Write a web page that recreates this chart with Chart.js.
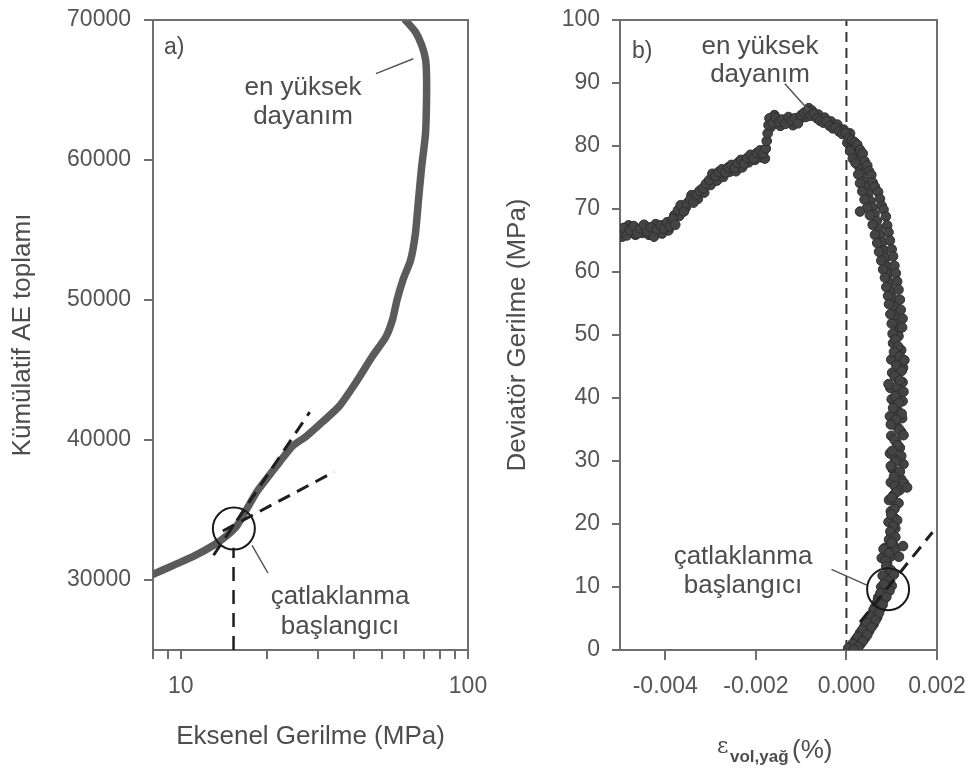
<!DOCTYPE html>
<html><head><meta charset="utf-8">
<script src="https://cdn.jsdelivr.net/npm/chart.js@4.4.1/dist/chart.umd.min.js"></script>
<style>
html,body{margin:0;padding:0;background:#fff;}
#wrap{position:relative;width:970px;height:769px;overflow:hidden;background:#fff;}
canvas{position:absolute;top:0;}
</style></head><body>
<div id="wrap">
<canvas id="ca" width="520" height="769" style="left:0;width:520px;height:769px"></canvas>
<canvas id="cb" width="485" height="769" style="left:485px;width:485px;height:769px"></canvas>
</div>
<script>
// ---------- Panel a data ----------
const aStress = [8.0, 9.46, 11.1, 13.0, 14.5, 15.7, 17.0, 18.4, 19.9, 22.1, 24.5, 27.4, 31.1, 35.6, 40.7, 46.4, 51.8, 54.6, 56.6, 59.5, 63.1, 65.6, 67.2, 68.9, 71.1, 71.7, 71.7, 71.1, 68.9, 65.6, 60.5];
const aAE     = [30400, 31060, 31700, 32480, 33190, 33900, 35100, 36300, 37230, 38440, 39570, 40280, 41280, 42410, 44110, 45960, 47380, 48600, 50000, 51500, 52840, 54750, 57090, 59430, 61840, 64180, 66100, 67230, 68230, 69150, 70000];
const aVertX = [15.26, 15.26];
const aVertY = [25000, 32300];
const aSteepX = [13.0, 28.1];
const aSteepY = [31770, 41990];
const aShallowX = [14.0, 34.2];
const aShallowY = [33500, 37730];
const aCircle = [15.3, 33670];
const aLeaderPeakX = [47.8, 64.5];
const aLeaderPeakY = [66170, 67230];
const aLeaderCrackX = [17.7, 20.1];
const aLeaderCrackY = [32480, 30500];
const aXTicks = [8, 9, 10, 20, 30, 40, 50, 60, 70, 80, 90, 100];
const aXLabeled = [10, 100];
const aYTicks = [30000, 40000, 50000, 60000, 70000];

// ---------- Panel b data ----------
const bStrain = [
 -0.00498,-0.00492,-0.00485,-0.00478,-0.0047,-0.00462,-0.00455,-0.00447,-0.0044,-0.00432,-0.00425,-0.00418,-0.0041,-0.00403,-0.00396,-0.00389,-0.00383,-0.00378,
 -0.00372,-0.00366,-0.00359,-0.00352,-0.00345,-0.00338,-0.00331,-0.00324,-0.00317,-0.0031,-0.00303,-0.00296,-0.00289,-0.00282,-0.00275,-0.00268,-0.00261,-0.00254,-0.00247,-0.0024,-0.00233,-0.00226,-0.00219,-0.00212,-0.00205,-0.00198,-0.00191,-0.00184,-0.00178,
 -0.00176,-0.00174,-0.00172,-0.0017,
 -0.00163,-0.00156,-0.00149,-0.00142,-0.00135,-0.00128,-0.00121,-0.00114,-0.00107,-0.001,-0.00093,-0.00086,-0.00079,-0.00072,-0.00065,-0.00058,-0.00051,-0.00044,-0.00037,-0.0003,-0.00023,-0.00016,-0.00009,-0.00002,0.00005,0.00012,
 0.00018,0.00024,0.0003,0.00036,0.0004,0.00046,0.0005,0.00055,0.00058,0.00063,0.0007,0.00074,0.00078,0.00082,0.00087,0.0009,0.00093,0.00096,0.001,0.00103,0.00106,0.00109,0.00112,0.00115,0.00118,0.0012,0.00124,0.00123,
 0.00008,0.00014,0.0002,0.00026,0.0003,0.00035,0.0004,0.00046,0.00052,0.00058,0.00063,0.00068,0.00072,0.00077,0.00081,0.00085,0.00088,0.00092,0.00094,0.00097,0.001,0.00102,
 0.0003,
 0.00108,0.00114,0.00105,0.00118,0.00128,0.0011,0.00122,0.00106,0.00093,0.00118,0.00126,0.00108,0.00116,0.00103,0.00122,0.0011,0.00098,0.00117,0.00126,0.00106,0.00113,0.00101,0.00121,0.00109,0.00098,0.00118,0.00105,0.00127,0.00134,0.0011,0.001,0.00115,0.00106,0.00099,0.00112,0.00103,0.00097,0.00108,0.001,0.00125,0.00082,0.00094,0.00116,0.00086,
 0.00088,0.00098,0.00105,0.0008,0.00092,0.001,0.00083,0.00095,0.00075,0.00088,0.00068,0.0008,0.0006,0.00072,0.00052,0.00064,0.00044,0.00055,0.00035,0.00046,0.00025,0.00036,0.00014,0.00026,0.00004,0.00016
];
const bStress = [
 66.2,67.0,65.8,66.6,67.3,66.1,66.9,67.5,66.4,67.1,65.6,66.8,67.4,66.9,67.9,67.2,68.4,67.5,
 69.8,70.6,69.6,70.9,71.5,71.0,72.3,72.9,73.3,74.0,74.6,75.6,75.2,75.9,76.3,75.8,76.6,77.0,76.5,77.3,77.8,77.2,78.1,78.6,78.0,78.9,79.3,78.8,79.6,
 80.8,82.0,83.3,84.4,
 83.6,84.5,83.8,84.2,83.5,84.6,84.0,84.4,83.6,84.9,85.3,85.5,84.8,85.1,84.4,84.0,83.7,83.9,83.2,82.8,82.9,82.3,81.9,82.1,81.2,80.9,
 80.6,80.2,79.4,78.8,77.6,76.9,76.0,75.4,74.2,73.5,72.7,71.6,70.5,69.9,68.8,67.4,66.3,65.0,63.6,62.5,61.0,59.8,58.5,57.2,55.6,54.0,52.6,51.2,
 79.2,78.0,77.3,75.5,74.1,72.8,71.5,70.2,69.0,67.5,65.9,64.6,63.2,61.8,60.4,59.1,57.6,56.2,54.9,53.3,51.8,50.2,
 69.6,
 49.3,48.2,47.3,46.6,46.0,45.2,44.3,43.5,42.2,42.8,41.0,40.3,39.2,38.4,37.5,36.6,35.8,35.0,34.1,33.4,32.5,31.6,30.8,29.9,29.2,28.3,27.5,26.5,25.8,25.0,24.2,23.3,22.4,21.5,20.6,19.7,18.8,17.9,17.0,16.5,16.0,15.4,14.8,14.2,
 13.3,12.7,12.0,11.8,11.0,10.2,10.5,9.4,9.0,8.4,7.6,7.2,6.4,5.9,5.4,4.7,4.3,3.6,3.2,2.4,2.1,1.4,1.0,0.5,0.3,0.1
];
// second reading of the dense band (extra scattered samples)
const bStrain2 = [
 -0.00495,-0.00481,-0.00466,-0.00451,-0.00436,-0.00421,-0.00407,-0.00393,-0.0038,
 -0.00369,-0.00355,-0.00342,-0.00328,-0.00314,-0.003,-0.00286,-0.00272,-0.00258,-0.00244,-0.0023,-0.00216,-0.00202,-0.00188,-0.0018,
 -0.00167,-0.00159,-0.00146,-0.00132,-0.00118,-0.00104,-0.0009,-0.00083,-0.00076,-0.00062,-0.00048,-0.00034,-0.0002,-0.00006,0.00008,0.00002,
 0.00012,0.00018,0.00024,0.00028,0.00033,0.00038,0.00043,0.00048,0.00053,0.00058,0.00062,0.00067,0.00071,0.00075,0.00079,0.00083,0.00086,0.0009,0.00093,0.00096,0.00099,0.00102,0.00105,0.00108,0.0011,0.00113,
 0.00115,0.00103,0.00121,0.00112,0.00099,0.00116,0.00125,0.00101,0.00113,0.00124,0.00097,0.00111,0.00119,0.001,0.00124,0.00107,0.00114,0.00096,0.00123,0.00104,0.00112,0.00121,0.00099,0.0011,0.00118,0.00096,0.00107,0.00117,0.00126,0.00102,0.00112,0.00121,0.00098,0.00107,0.00118,0.00104,0.00094,0.00109,0.00098,0.00104,0.00093,0.00108,0.00099,0.00094,0.00104,0.00091,0.00099,0.00108,0.0009,0.00078,0.00085,
 0.00094,0.00086,0.00077,0.00091,0.0007,0.00082,0.00064,0.00076,0.00057,0.00068,0.00049,0.0006,0.0004,0.0005,0.0003,0.00041,0.0002,0.00031,0.0001,0.00021
];
const bStress2 = [
 65.6,67.4,65.9,66.2,65.9,67.6,66.1,66.6,69.0,
 68.9,70.2,72.2,71.6,72.6,73.8,74.5,75.1,75.9,76.0,76.6,77.4,77.8,78.2,78.0,
 83.0,84.9,83.2,84.0,83.3,84.2,84.6,86.0,85.6,85.0,84.5,83.9,83.4,82.6,82.0,80.5,
 79.9,78.9,77.8,76.7,75.6,74.4,73.6,72.4,71.3,70.3,69.2,68.1,66.9,65.8,64.7,63.4,62.2,60.9,59.7,58.3,57.0,55.8,54.6,53.2,51.7,50.4,
 49.8,48.7,47.6,46.9,46.1,45.6,44.8,44.0,43.1,42.5,41.6,41.8,40.6,39.8,39.5,38.9,37.9,37.1,36.8,36.1,35.4,34.6,34.0,33.0,32.1,31.2,30.4,30.1,29.5,28.7,27.9,27.1,26.6,26.0,25.4,24.6,23.8,23.0,22.0,21.1,20.3,19.3,18.4,17.5,16.6,15.9,14.9,15.9,13.8,14.6,16.2,
 12.0,11.2,10.0,9.9,8.3,8.0,6.9,6.6,5.8,5.2,4.8,4.1,3.8,3.0,2.7,1.9,1.6,0.9,0.6,0.3
];
const bZeroX = [0, 0];
const bZeroY = [0, 100];
const bTangentX = [0.0003, 0.0019];
const bTangentY = [4.4, 18.7];
const bCircle = [0.00092, 9.65];
const bLeaderPeakX = [-0.00136, -0.00084];
const bLeaderPeakY = [89.9, 85.7];
const bLeaderCrackX = [-0.00033, 0.00045];
const bLeaderCrackY = [12.8, 10.3];
const bXTicks = [-0.004, -0.002, 0.000, 0.002];
const bYTicks = [0, 10, 20, 30, 40, 50, 60, 70, 80, 90, 100];

// ---------- helpers ----------
const FONT = "'Liberation Sans', Arial, Helvetica, sans-serif";
const AXIS = '#6e6e6e';
const TXT = '#4d4d4d';
const pts = (xs, ys) => xs.map((x, i) => ({x, y: ys[i]}));

function lineDS(xs, ys, opts) {
  return Object.assign({data: pts(xs, ys), showLine: true, pointRadius: 0, borderColor: '#1e1e1e', borderWidth: 2, fill: false, tension: 0}, opts);
}

function decoPlugin(texts, extra) {
  return {
    id: 'deco',
    afterDraw(chart) {
      const ctx = chart.ctx, a = chart.chartArea;
      ctx.save();
      ctx.strokeStyle = AXIS; ctx.lineWidth = 2;
      ctx.beginPath();
      ctx.moveTo(a.left, a.top); ctx.lineTo(a.right, a.top); ctx.lineTo(a.right, a.bottom);
      ctx.stroke();
      ctx.fillStyle = TXT; ctx.textBaseline = 'middle';
      texts.forEach(t => {
        ctx.font = (t.size || 26) + 'px ' + FONT;
        ctx.textAlign = t.align || 'center';
        ctx.fillText(t.text, t.x, t.y);
      });
      if (extra) extra(ctx, chart);
      ctx.restore();
    }
  };
}

function tickScale(list) {
  return s => { s.ticks = list.map(v => ({value: v})); };
}

// ---------- Chart a ----------
new Chart(document.getElementById('ca'), {
  type: 'scatter',
  data: {
    datasets: [
      {data: [{x: aCircle[0], y: aCircle[1]}], pointRadius: 21, pointStyle: 'circle', pointBackgroundColor: 'rgba(0,0,0,0)', pointBorderColor: '#1a1a1a', pointBorderWidth: 2},
      lineDS(aSteepX, aSteepY, {borderWidth: 3, borderDash: [13, 8]}),
      lineDS(aShallowX, aShallowY, {borderWidth: 3, borderDash: [13, 8]}),
      lineDS(aVertX, aVertY, {borderWidth: 2.5, borderDash: [14, 9]}),
      lineDS(aLeaderPeakX, aLeaderPeakY, {borderWidth: 1.5, borderColor: '#555'}),
      lineDS(aLeaderCrackX, aLeaderCrackY, {borderWidth: 1.5, borderColor: '#555'}),
      lineDS(aStress, aAE, {borderWidth: 7.5, borderColor: '#5b5b5b', tension: 0.2, borderCapStyle: 'round', borderJoinStyle: 'round'})
    ]
  },
  options: {
    responsive: false, animation: false, devicePixelRatio: 1,
    layout: {autoPadding: false, padding: {top: 20, right: 52, left: 0, bottom: 0}},
    plugins: {legend: {display: false}, tooltip: {enabled: false}},
    scales: {
      x: {
        type: 'logarithmic', min: 8, max: 100,
        afterBuildTicks: tickScale(aXTicks),
        afterFit(s) { s.height = 119; s.paddingLeft = 0; s.paddingRight = 0; },
        border: {display: true, color: AXIS, width: 2},
        grid: {drawOnChartArea: false, drawTicks: true, tickLength: 9, color: AXIS, lineWidth: 2},
        ticks: {autoSkip: false, maxRotation: 0, padding: 14, color: '#555', font: {family: FONT, size: 23},
                callback: v => aXLabeled.includes(v) ? String(v) : ''},
        title: {display: true, text: 'Eksenel Gerilme (MPa)', color: TXT, font: {family: FONT, size: 26}, padding: {top: 0, bottom: 17}}
      },
      y: {
        type: 'linear', min: 25000, max: 70000,
        afterBuildTicks: tickScale(aYTicks),
        afterFit(s) { s.width = 153; s.paddingTop = 0; s.paddingBottom = 0; },
        border: {display: true, color: AXIS, width: 2},
        grid: {drawOnChartArea: false, drawTicks: true, tickLength: 9, color: AXIS, lineWidth: 2},
        ticks: {autoSkip: false, padding: 13, color: '#555', font: {family: FONT, size: 23}, callback: v => String(v)},
        title: {display: true, text: 'Kümülatif AE toplamı', color: TXT, font: {family: FONT, size: 26}, padding: {top: 7, bottom: 0}}
      }
    }
  },
  plugins: [decoPlugin([
    {text: 'a)', x: 164, y: 48, size: 23, align: 'left'},
    {text: 'en yüksek', x: 303, y: 88},
    {text: 'dayanım', x: 303, y: 117},
    {text: 'çatlaklanma', x: 340, y: 597},
    {text: 'başlangıcı', x: 340, y: 627}
  ])]
});

// ---------- Chart b ----------
const bPointStyle = {pointRadius: 4.8, pointBackgroundColor: '#444', pointBorderColor: '#2e2e2e', pointBorderWidth: 1, showLine: false};
new Chart(document.getElementById('cb'), {
  type: 'scatter',
  data: {
    datasets: [
      {data: [{x: bCircle[0], y: bCircle[1]}], pointRadius: 21, pointStyle: 'circle', pointBackgroundColor: 'rgba(0,0,0,0)', pointBorderColor: '#1a1a1a', pointBorderWidth: 2},
      lineDS(bTangentX, bTangentY, {borderWidth: 3, borderDash: [13, 8]}),
      lineDS(bLeaderPeakX, bLeaderPeakY, {borderWidth: 1.5, borderColor: '#555'}),
      lineDS(bLeaderCrackX, bLeaderCrackY, {borderWidth: 1.5, borderColor: '#555'}),
      Object.assign({data: pts(bStrain, bStress)}, bPointStyle),
      Object.assign({data: pts(bStrain2, bStress2)}, bPointStyle),
      lineDS(bZeroX, bZeroY, {borderWidth: 2, borderColor: '#333', borderDash: [10, 6]})
    ]
  },
  options: {
    responsive: false, animation: false, devicePixelRatio: 1,
    layout: {autoPadding: false, padding: {top: 20, right: 33, left: 0, bottom: 0}},
    plugins: {legend: {display: false}, tooltip: {enabled: false}},
    scales: {
      x: {
        type: 'linear', min: -0.005, max: 0.002,
        afterBuildTicks: tickScale(bXTicks),
        afterFit(s) { s.height = 119; s.paddingLeft = 0; s.paddingRight = 0; },
        border: {display: true, color: AXIS, width: 2},
        grid: {drawOnChartArea: false, drawTicks: true, tickLength: 10, color: AXIS, lineWidth: 2},
        ticks: {autoSkip: false, maxRotation: 0, padding: 13, color: '#555', font: {family: FONT, size: 23},
                callback: v => (Math.abs(v) < 1e-9 ? 0 : v).toFixed(3)}
      },
      y: {
        type: 'linear', min: 0, max: 100,
        afterBuildTicks: tickScale(bYTicks),
        afterFit(s) { s.width = 135; s.paddingTop = 0; s.paddingBottom = 0; },
        border: {display: true, color: AXIS, width: 2},
        grid: {drawOnChartArea: false, drawTicks: true, tickLength: 8, color: AXIS, lineWidth: 2},
        ticks: {autoSkip: false, padding: 12, color: '#555', font: {family: FONT, size: 23}, callback: v => String(v)},
        title: {display: true, text: 'Deviatör Gerilme (MPa)', color: TXT, font: {family: FONT, size: 26}, padding: {top: 17, bottom: 0}}
      }
    }
  },
  plugins: [decoPlugin([
    {text: 'b)', x: 147, y: 52, size: 23, align: 'left'},
    {text: 'en yüksek', x: 275, y: 47},
    {text: 'dayanım', x: 275, y: 75},
    {text: 'çatlaklanma', x: 258, y: 557},
    {text: 'başlangıcı', x: 258, y: 586}
  ], (ctx) => {
    ctx.fillStyle = TXT; ctx.textBaseline = 'alphabetic'; ctx.textAlign = 'left';
    ctx.font = "22px 'DejaVu Serif', serif";
    ctx.fillText('ε', 232, 753);
    ctx.font = "bold 17px " + FONT;
    ctx.fillText('vol,yağ', 245, 762);
    ctx.font = "26px " + FONT;
    ctx.fillText('(%)', 307, 758);
  })]
});
</script>
</body></html>
